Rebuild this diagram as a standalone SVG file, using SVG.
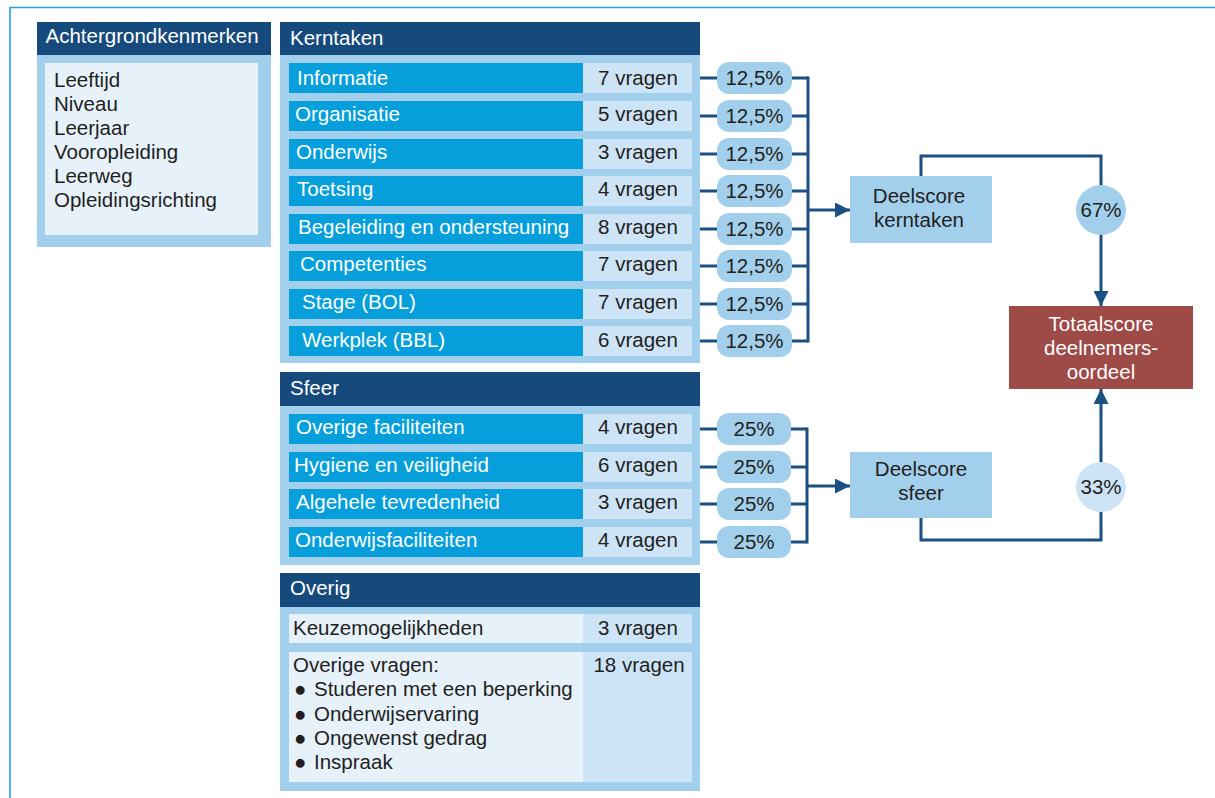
<svg xmlns="http://www.w3.org/2000/svg" width="1215" height="798" viewBox="0 0 1215 798">
  <style>
    text { font-family: "Liberation Sans", Arial, Helvetica, sans-serif; font-size: 20.5px; fill: #231f20; }
    .hdr { fill: #174a7c; }
    .body { fill: #a2cfec; }
    .row { fill: #069fdb; }
    .cnt { fill: #cde4f6; }
    .pale { fill: #e6f1fa; }
    .pill { fill: #a2cfec; }
    .w { fill: #ffffff; }
    .mid { text-anchor: middle; }
    .wire { fill: none; stroke: #1c4f82; stroke-width: 3; }
    .frame { fill: none; stroke: #1ea6df; stroke-width: 1.6; }
  </style>
  <defs>
    <marker id="arrow" markerUnits="userSpaceOnUse" markerWidth="15" markerHeight="15" refX="15" refY="7.5" orient="auto">
      <path d="M0,0 L15,7.5 L0,15 z" fill="#1c4f82"/>
    </marker>
  </defs>

  <rect width="1215" height="798" fill="#ffffff"/>
  <!-- outer frame (top and left rule) -->
  <path class="frame" d="M10,798 V7.5 H1215"/>

  <!-- Achtergrondkenmerken -->
  <g id="achtergrond">
    <rect class="hdr" x="37" y="22" width="234" height="33"/>
    <text class="w" x="45.5" y="43">Achtergrondkenmerken</text>
    <rect class="body" x="37" y="55" width="234" height="192"/>
    <rect class="pale" x="45" y="63" width="213" height="172"/>
    <text x="54" y="87">Leeftijd</text>
    <text x="54" y="111">Niveau</text>
    <text x="54" y="135">Leerjaar</text>
    <text x="54" y="159">Vooropleiding</text>
    <text x="54" y="183">Leerweg</text>
    <text x="54" y="207">Opleidingsrichting</text>
  </g>

  <!-- connectors -->
  <g id="connectors">
    <!-- kerntaken rows to percentages -->
    <path class="wire" d="M692,78 H717 M692,116 H717 M692,154 H717 M692,191 H717 M692,229 H717 M692,266 H717 M692,304 H717 M692,341 H717"/>
    <!-- percentages to bus -->
    <path class="wire" d="M791,78 H808 M791,116 H808 M791,154 H808 M791,191 H808 M791,229 H808 M791,266 H808 M791,304 H808 M791,341 H808"/>
    <path class="wire" d="M808,76.5 V342.5"/>
    <path class="wire" d="M808,210 H850" marker-end="url(#arrow)"/>
    <!-- sfeer rows to percentages -->
    <path class="wire" d="M692,429 H717 M692,467 H717 M692,504 H717 M692,542 H717"/>
    <path class="wire" d="M791,429 H807 M791,467 H807 M791,504 H807 M791,542 H807"/>
    <path class="wire" d="M807,427.5 V543.5"/>
    <path class="wire" d="M807,486 H850" marker-end="url(#arrow)"/>
    <!-- deelscores to totaalscore -->
    <path class="wire" d="M921,176 V156 H1101 V306" marker-end="url(#arrow)"/>
    <path class="wire" d="M921,518 V540 H1101 V389" marker-end="url(#arrow)"/>
  </g>

  <!-- Kerntaken -->
  <g id="kerntaken">
    <rect class="hdr" x="280" y="22" width="420" height="33"/>
    <text class="w" x="290" y="44.5">Kerntaken</text>
    <rect class="body" x="280" y="55" width="420" height="308"/>

    <rect class="row" x="289" y="63" width="294" height="30"/><rect class="cnt" x="583" y="63" width="109" height="30"/>
    <text class="w" x="297" y="85">Informatie</text><text class="mid" x="638" y="84.5">7 vragen</text>

    <rect class="row" x="289" y="101" width="294" height="30"/><rect class="cnt" x="583" y="101" width="109" height="30"/>
    <text class="w" x="295" y="121">Organisatie</text><text class="mid" x="638" y="121">5 vragen</text>

    <rect class="row" x="289" y="139" width="294" height="30"/><rect class="cnt" x="583" y="139" width="109" height="30"/>
    <text class="w" x="296" y="158.5">Onderwijs</text><text class="mid" x="638" y="158.5">3 vragen</text>

    <rect class="row" x="289" y="176" width="294" height="30"/><rect class="cnt" x="583" y="176" width="109" height="30"/>
    <text class="w" x="297" y="196">Toetsing</text><text class="mid" x="638" y="196">4 vragen</text>

    <rect class="row" x="289" y="214" width="294" height="30"/><rect class="cnt" x="583" y="214" width="109" height="30"/>
    <text class="w" x="298" y="233.5">Begeleiding en ondersteuning</text><text class="mid" x="638" y="233.5">8 vragen</text>

    <rect class="row" x="289" y="251" width="294" height="30"/><rect class="cnt" x="583" y="251" width="109" height="30"/>
    <text class="w" x="300" y="271">Competenties</text><text class="mid" x="638" y="271">7 vragen</text>

    <rect class="row" x="289" y="289" width="294" height="30"/><rect class="cnt" x="583" y="289" width="109" height="30"/>
    <text class="w" x="302" y="309">Stage (BOL)</text><text class="mid" x="638" y="309">7 vragen</text>

    <rect class="row" x="289" y="326" width="294" height="30"/><rect class="cnt" x="583" y="326" width="109" height="30"/>
    <text class="w" x="302" y="346.5">Werkplek (BBL)</text><text class="mid" x="638" y="346.5">6 vragen</text>
  </g>

  <!-- Kerntaken weights -->
  <g id="weights-kerntaken">
    <rect class="pill" x="717" y="62" width="75" height="32" rx="12"/><text class="mid" x="754.5" y="85">12,5%</text>
    <rect class="pill" x="717" y="100" width="75" height="32" rx="12"/><text class="mid" x="754.5" y="123">12,5%</text>
    <rect class="pill" x="717" y="138" width="75" height="32" rx="12"/><text class="mid" x="754.5" y="161">12,5%</text>
    <rect class="pill" x="717" y="175" width="75" height="32" rx="12"/><text class="mid" x="754.5" y="198">12,5%</text>
    <rect class="pill" x="717" y="213" width="75" height="32" rx="12"/><text class="mid" x="754.5" y="236">12,5%</text>
    <rect class="pill" x="717" y="250" width="75" height="32" rx="12"/><text class="mid" x="754.5" y="273">12,5%</text>
    <rect class="pill" x="717" y="288" width="75" height="32" rx="12"/><text class="mid" x="754.5" y="311">12,5%</text>
    <rect class="pill" x="717" y="325" width="75" height="32" rx="12"/><text class="mid" x="754.5" y="348">12,5%</text>
  </g>

  <!-- Sfeer -->
  <g id="sfeer">
    <rect class="hdr" x="280" y="372" width="420" height="34"/>
    <text class="w" x="290" y="395">Sfeer</text>
    <rect class="body" x="280" y="406" width="420" height="159"/>

    <rect class="row" x="289" y="414" width="294" height="30"/><rect class="cnt" x="583" y="414" width="109" height="30"/>
    <text class="w" x="296" y="433.5">Overige faciliteiten</text><text class="mid" x="638" y="433.5">4 vragen</text>

    <rect class="row" x="289" y="452" width="294" height="30"/><rect class="cnt" x="583" y="452" width="109" height="30"/>
    <text class="w" x="294" y="471.5">Hygiene en veiligheid</text><text class="mid" x="638" y="471.5">6 vragen</text>

    <rect class="row" x="289" y="489" width="294" height="30"/><rect class="cnt" x="583" y="489" width="109" height="30"/>
    <text class="w" x="296" y="508.5">Algehele tevredenheid</text><text class="mid" x="638" y="508.5">3 vragen</text>

    <rect class="row" x="289" y="527" width="294" height="30"/><rect class="cnt" x="583" y="527" width="109" height="30"/>
    <text class="w" x="295" y="546.5">Onderwijsfaciliteiten</text><text class="mid" x="638" y="546.5">4 vragen</text>
  </g>

  <!-- Sfeer weights -->
  <g id="weights-sfeer">
    <rect class="pill" x="717" y="413" width="74" height="32" rx="12"/><text class="mid" x="754" y="436">25%</text>
    <rect class="pill" x="717" y="451" width="74" height="32" rx="12"/><text class="mid" x="754" y="474">25%</text>
    <rect class="pill" x="717" y="488" width="74" height="32" rx="12"/><text class="mid" x="754" y="511">25%</text>
    <rect class="pill" x="717" y="526" width="74" height="32" rx="12"/><text class="mid" x="754" y="549">25%</text>
  </g>

  <!-- Overig -->
  <g id="overig">
    <rect class="hdr" x="280" y="573" width="420" height="34"/>
    <text class="w" x="290" y="595">Overig</text>
    <rect class="body" x="280" y="607" width="420" height="184"/>

    <rect class="pale" x="289" y="614" width="294" height="29"/><rect class="cnt" x="583" y="614" width="109" height="29"/>
    <text x="293" y="635">Keuzemogelijkheden</text><text class="mid" x="638" y="635">3 vragen</text>

    <rect class="pale" x="289" y="652" width="294" height="130"/><rect class="cnt" x="583" y="652" width="109" height="130"/>
    <text x="293" y="672">Overige vragen:</text>
    <text class="mid" x="639" y="672">18 vragen</text>
    <text x="294" y="696">●<tspan x="314">Studeren met een beperking</tspan></text>
    <text x="294" y="720.5">●<tspan x="314">Onderwijservaring</tspan></text>
    <text x="294" y="745">●<tspan x="314">Ongewenst gedrag</tspan></text>
    <text x="294" y="769">●<tspan x="314">Inspraak</tspan></text>
  </g>

  <!-- Deelscore kerntaken -->
  <g id="deelscore-kerntaken">
    <rect class="body" x="850" y="176" width="142" height="67"/>
    <text class="mid" x="919" y="203">Deelscore</text>
    <text class="mid" x="919" y="227">kerntaken</text>
  </g>

  <!-- Deelscore sfeer -->
  <g id="deelscore-sfeer">
    <rect class="body" x="850" y="452" width="142" height="66"/>
    <text class="mid" x="921" y="476">Deelscore</text>
    <text class="mid" x="921" y="500">sfeer</text>
  </g>

  <!-- weights of the part scores -->
  <g id="weight-67">
    <circle cx="1101" cy="210" r="25" fill="#a2cfec"/>
    <text class="mid" x="1101" y="217">67%</text>
  </g>
  <g id="weight-33">
    <circle cx="1101" cy="487" r="25" fill="#cde4f6"/>
    <text class="mid" x="1101" y="494">33%</text>
  </g>

  <!-- Totaalscore -->
  <g id="totaalscore">
    <rect x="1009" y="306" width="184" height="83" fill="#9e4a47"/>
    <text class="w mid" x="1101" y="331">Totaalscore</text>
    <text class="w mid" x="1101" y="355">deelnemers-</text>
    <text class="w mid" x="1101" y="379">oordeel</text>
  </g>
</svg>
